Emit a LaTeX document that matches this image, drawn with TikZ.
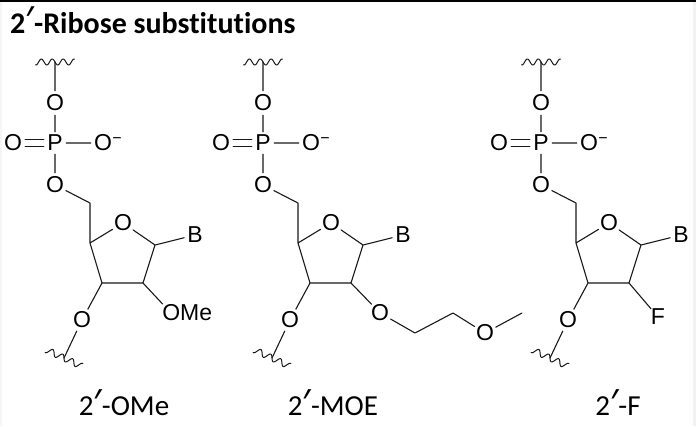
\documentclass[tikz,border=0pt]{standalone}
\usepackage{fontspec}
\setmainfont{Carlito}[Ligatures=NoCommon]
\newfontfamily\atomfam{Liberation Sans}
\newfontfamily\primefam{Noto Sans}
\makeatletter
\newcommand\primemark{{\primefam\fontsize{\strip@pt\dimexpr1.25\dimexpr\f@size pt\relax\relax}{\strip@pt\dimexpr1.5\dimexpr\f@size pt\relax\relax}\selectfont ′}}
\makeatother
\usetikzlibrary{calc}
\tikzset{
  bond/.style={line width=1.1pt, line cap=round, line join=round, draw=black!90},
  atom/.style={circle, inner sep=0pt, font=\atomfam\fontsize{23}{23}\selectfont},
  plain/.style={inner sep=0pt, font=\atomfam\fontsize{23}{23}\selectfont},
  minussign/.style={inner sep=0pt, anchor=mid, font=\atomfam\fontsize{16}{16}\selectfont},
  caption/.style={inner sep=1pt, anchor=base, font=\fontsize{29}{35}\selectfont},
  titletext/.style={inner sep=1pt, anchor=base west, font=\bfseries\fontsize{30}{36}\selectfont},
  wavy/.pic={\draw[bond, line width=1pt] plot[domain=-19.5:19.5, samples=90, smooth] (\x, {3*sin(\x*360/10.9)});}
}
\newcommand\nucl[2]{%
\begin{scope}[xshift=#2pt]
  \coordinate (#1w1) at (55,62);
  \node[atom] (#1o1) at (55,103) {O};
  \node[atom] (#1p) at (55,143) {P};
  \node[atom] (#1oq) at (13,143) {O};
  \node[atom] (#1om) at (103,143) {O};
  \node[minussign] (#1mn) at (117,141) {−};
  \node[atom] (#1o5) at (55,185) {O};
  \coordinate (#1c5) at (90,203);
  \coordinate (#1c4) at (90,243);
  \node[atom] (#1or) at (123,223) {O};
  \coordinate (#1c1) at (155,245);
  \node[atom] (#1b) at (195,235) {B};
  \coordinate (#1c2) at (143,283);
  \coordinate (#1c3) at (102,283);
  \node[atom] (#1o3) at (82,320) {O};
  \coordinate (#1w2) at (64,358);
  \draw[bond] (#1w1) -- (#1o1) (#1o1) -- (#1p) (#1p) -- (#1om) (#1p) -- (#1o5)
    (#1o5) -- (#1c5) -- (#1c4) -- (#1or) (#1or) -- (#1c1) -- (#1c2) -- (#1c3) -- (#1c4)
    (#1c1) -- (#1b) (#1c3) -- (#1o3) (#1o3) -- (#1w2);
  \draw[bond] ([yshift=3.1pt]#1oq.east) -- ([yshift=3.1pt]#1p.west)
              ([yshift=-3.1pt]#1oq.east) -- ([yshift=-3.1pt]#1p.west);
  \pic at (#1w1) {wavy};
  \pic[rotate=-25] at (#1w2) {wavy};
\end{scope}}
\begin{document}
\begin{tikzpicture}[x=1pt, y=-1pt]
  \useasboundingbox (0,0) rectangle (696,426);
  \fill[white] (0,0) rectangle (696,426);
  \fill[black] (0,0) rectangle (696,1.8);
  \fill[black!5] (693,1.8) rectangle (696,426);
  \fill[black!4] (0,1.8) rectangle (1.5,426);
  \node[titletext] (title) at (9,33) {2\primemark-Ribose substitutions};
  % molecule 1: 2'-OMe
  \nucl{a}{0}
  \node[atom] (aome) at (171,313) {\phantom{O}};
  \node[plain, anchor=base west] (aometxt) at (aome.text) {OMe};
  \draw[bond] (ac2) -- (aome);
  % molecule 2: 2'-MOE
  \nucl{b}{208}
  \node[atom] (bo2) at (380,313) {O};
  \coordinate (bm1) at (415,333);
  \coordinate (bm2) at (453,313);
  \node[atom] (bo4) at (485,333) {O};
  \coordinate (bme) at (522,313);
  \draw[bond] (bc2) -- (bo2) (bo2) -- (bm1) -- (bm2) -- (bo4) (bo4) -- (bme);
  % molecule 3: 2'-F
  \nucl{c}{486}
  \node[atom] (cf) at (658,317) {F};
  \draw[bond] (cc2) -- (cf);
  % captions
  \node[caption] (cap1) at (124,415.5) {2\primemark-OMe};
  \node[caption] (cap2) at (333,415.5) {2\primemark-MOE};
  \node[caption] (cap3) at (618,415.5) {2\primemark-F};
\end{tikzpicture}
\end{document}
